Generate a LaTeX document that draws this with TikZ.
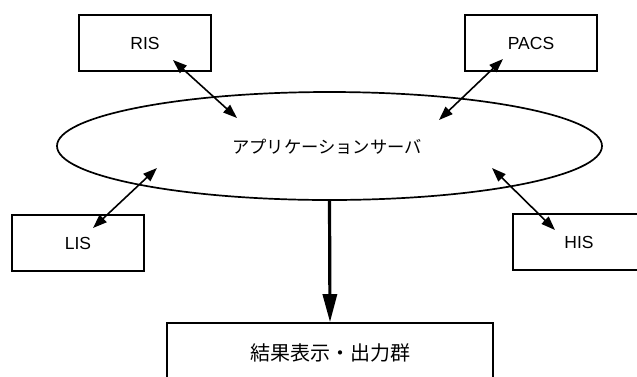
\documentclass[tikz,border=0pt]{standalone}
\usepackage{fontspec}
\setmainfont{Liberation Sans}
\newfontfamily\jpfont{Noto Sans CJK JP}
\usetikzlibrary{shapes.geometric,arrows.meta}
\begin{document}
\begin{tikzpicture}[x=1pt,y=-1pt,
  sysbox/.style={draw,line width=1.6pt,minimum width=132pt,minimum height=56pt,inner sep=0pt,font=\fontsize{17.5}{20}\selectfont},
  link/.style={line width=1.6pt,{Triangle[length=14pt,width=10pt]}-{Triangle[length=14pt,width=10pt]}},
  mainarrow/.style={line width=3.2pt,-{Triangle[length=28pt,width=14pt]}}]
\useasboundingbox (0,0) rectangle (637,376);
\clip (0,0) rectangle (637,376);
\node[sysbox] (ris) at (145,43) {RIS};
\node[sysbox] (pacs) at (531,43) {PACS};
\node[sysbox] (lis) at (78,243) {LIS};
\node[sysbox] (his) at (579,242) {HIS};
\node[draw,line width=1.7pt,ellipse,minimum width=545pt,minimum height=108pt,inner sep=0pt] (srv) at (329.5,146) {};
\node[font=\jpfont\fontsize{17.3}{20}\selectfont] (srvtext) at (327,147) {アプリケーションサーバ};
\node[draw,line width=1.6pt,minimum width=326pt,minimum height=56pt,inner sep=0pt] (out) at (330,351) {};
\node[font=\jpfont\fontsize{20}{22}\selectfont] (outtext) at (330,353) {結果表示・出力群};
\coordinate (risA) at (173,60);
\coordinate (risB) at (237,118);
\coordinate (pacsA) at (503,59);
\coordinate (pacsB) at (439,120);
\coordinate (lisA) at (157,168);
\coordinate (lisB) at (93,228);
\coordinate (hisA) at (492,168);
\coordinate (hisB) at (555,230);
\draw[link] (risA) -- (risB);
\draw[link] (pacsA) -- (pacsB);
\draw[link] (lisA) -- (lisB);
\draw[link] (hisA) -- (hisB);
\draw[mainarrow] (srv.south) -- (out.north);
\end{tikzpicture}
\end{document}
